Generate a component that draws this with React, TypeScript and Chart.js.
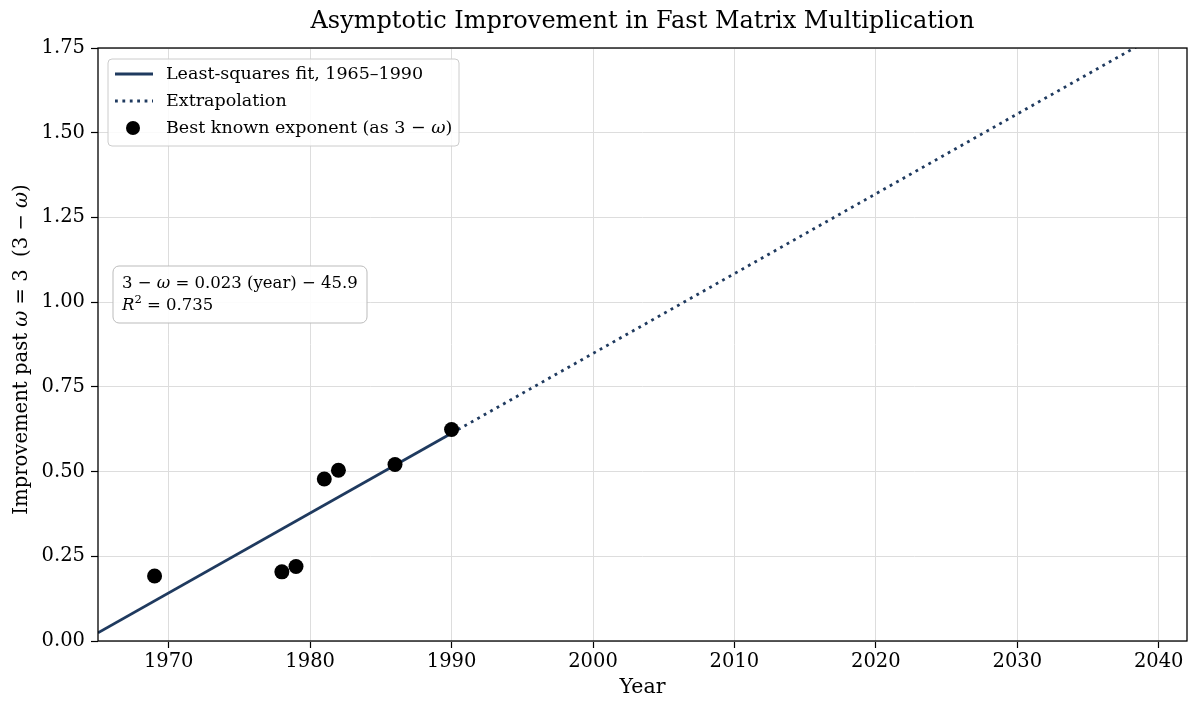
import { useEffect, useRef } from 'react';
import { Chart, registerables } from 'chart.js';

Chart.register(...registerables);

// data
const years = [1969, 1978, 1979, 1981, 1982, 1986, 1990];
const improvement = [0.192, 0.204, 0.22, 0.478, 0.504, 0.521, 0.624];

const fitYears = [1965, 1990];
const fitValues = [0.024, 0.613];
const extrapYears = [1990, 2042];
const extrapValues = [0.613, 1.838];

const xTicks = [1970, 1980, 1990, 2000, 2010, 2020, 2030, 2040];
const yTicks = [0, 0.25, 0.5, 0.75, 1.0, 1.25, 1.5, 1.75];

const legendLabels = ['Least-squares fit, 1965–1990', 'Extrapolation', 'Best known exponent (as 3 − ω)'];

const FONT = "'DejaVu Serif', serif";
const NAVY = '#1f3a5f';

type Seg = { t: string; it?: boolean; sup?: boolean };

// little helper for text with italic / superscript bits
function drawRich(ctx: CanvasRenderingContext2D, segs: Seg[], x: number, y: number, size: number, align: 'left' | 'center') {
    const fontOf = (s: Seg) => `${s.it ? 'italic ' : ''}${s.sup ? size * 0.7 : size}px ${FONT}`;
    let total = 0;
    segs.forEach(s => { ctx.font = fontOf(s); total += ctx.measureText(s.t).width; });
    let cx = align === 'center' ? x - total / 2 : x;
    ctx.textBaseline = 'middle';
    ctx.textAlign = 'left';
    ctx.fillStyle = '#000';
    segs.forEach(s => {
        ctx.font = fontOf(s);
        ctx.fillText(s.t, cx, s.sup ? y - size * 0.38 : y);
        cx += ctx.measureText(s.t).width;
    });
}

function roundBox(ctx: CanvasRenderingContext2D, x: number, y: number, w: number, h: number, r: number) {
    ctx.beginPath();
    ctx.moveTo(x + r, y);
    ctx.arcTo(x + w, y, x + w, y + h, r);
    ctx.arcTo(x + w, y + h, x, y + h, r);
    ctx.arcTo(x, y + h, x, y, r);
    ctx.arcTo(x, y, x + w, y, r);
    ctx.closePath();
}

const yTitle: Seg[] = [
    { t: 'Improvement past ' }, { t: 'ω', it: true }, { t: ' = 3  (3 − ' }, { t: 'ω', it: true }, { t: ')' },
];
const fitLine1: Seg[] = [
    { t: '3 − ' }, { t: 'ω', it: true }, { t: ' = 0.023 (year) − 45.9' },
];
const fitLine2: Seg[] = [
    { t: 'R', it: true }, { t: '2', sup: true }, { t: ' = 0.735' },
];

const overlay = {
    id: 'overlay',
    afterDraw(chart: any) {
        const { ctx, chartArea: a } = chart;
        ctx.save();

        // frame
        ctx.strokeStyle = '#000';
        ctx.lineWidth = 1.3;
        ctx.strokeRect(a.left, a.top, a.right - a.left, a.bottom - a.top);

        // y axis title
        ctx.save();
        ctx.translate(22, (a.top + a.bottom) / 2 + 5);
        ctx.rotate(-Math.PI / 2);
        drawRich(ctx, yTitle, 0, 0, 19.6, 'center');
        ctx.restore();

        // legend
        const lx = a.left + 10, ly = a.top + 11;
        roundBox(ctx, lx, ly, 351, 87, 4);
        ctx.fillStyle = 'rgba(255,255,255,0.85)';
        ctx.fill();
        ctx.strokeStyle = '#cccccc';
        ctx.lineWidth = 1;
        ctx.stroke();

        const rows = [ly + 15, ly + 42, ly + 69];
        ctx.strokeStyle = NAVY;
        ctx.lineWidth = 2.8;
        ctx.beginPath();
        ctx.moveTo(lx + 7, rows[0]);
        ctx.lineTo(lx + 45, rows[0]);
        ctx.stroke();
        ctx.setLineDash([2.8, 4.6]);
        ctx.beginPath();
        ctx.moveTo(lx + 7, rows[1]);
        ctx.lineTo(lx + 45, rows[1]);
        ctx.stroke();
        ctx.setLineDash([]);
        ctx.fillStyle = '#000';
        ctx.beginPath();
        ctx.arc(lx + 25, rows[2], 7, 0, Math.PI * 2);
        ctx.fill();

        drawRich(ctx, [{ t: legendLabels[0] }], lx + 58, rows[0], 17.5, 'left');
        drawRich(ctx, [{ t: legendLabels[1] }], lx + 58, rows[1], 17.5, 'left');
        const last = legendLabels[2];
        const k = last.indexOf('ω');
        drawRich(ctx, [{ t: last.slice(0, k) }, { t: 'ω', it: true }, { t: last.slice(k + 1) }], lx + 58, rows[2], 17.5, 'left');

        // fit annotation
        const bx = a.left + 15, by = a.top + 218;
        roundBox(ctx, bx, by, 254, 57, 6);
        ctx.fillStyle = 'rgba(255,255,255,0.9)';
        ctx.fill();
        ctx.strokeStyle = '#bbbbbb';
        ctx.lineWidth = 1;
        ctx.stroke();
        drawRich(ctx, fitLine1, bx + 9, by + 18, 16.5, 'left');
        drawRich(ctx, fitLine2, bx + 9, by + 40, 16.5, 'left');

        ctx.restore();
    },
};

export default function App() {
    const canvasRef = useRef<HTMLCanvasElement>(null);

    useEffect(() => {
        if (!canvasRef.current) return;

        const chart = new Chart(canvasRef.current as any, {
            type: 'line',
            data: {
                datasets: [
                    {
                        type: 'scatter',
                        label: legendLabels[2],
                        data: years.map((x, i) => ({ x, y: improvement[i] })),
                        backgroundColor: '#000',
                        borderColor: '#000',
                        borderWidth: 0,
                        pointRadius: 7.5,
                        pointHoverRadius: 7.5,
                        order: 0,
                    },
                    {
                        label: legendLabels[0],
                        data: fitYears.map((x, i) => ({ x, y: fitValues[i] })),
                        borderColor: NAVY,
                        borderWidth: 2.8,
                        pointRadius: 0,
                        tension: 0,
                        order: 1,
                    },
                    {
                        label: legendLabels[1],
                        data: extrapYears.map((x, i) => ({ x, y: extrapValues[i] })),
                        borderColor: NAVY,
                        borderWidth: 2.8,
                        borderDash: [2.8, 4.6],
                        pointRadius: 0,
                        tension: 0,
                        order: 2,
                    },
                ] as any,
            },
            options: {
                animation: false,
                responsive: true,
                maintainAspectRatio: false,
                layout: { padding: { left: 0, right: 13, top: 0, bottom: 0 } },
                plugins: {
                    legend: { display: false },
                    tooltip: { enabled: false },
                    title: {
                        display: true,
                        text: 'Asymptotic Improvement in Fast Matrix Multiplication',
                        color: '#000',
                        font: { family: FONT, size: 24, weight: 'normal' },
                        padding: { top: 7.6, bottom: 11.6 },
                        fullSize: false,
                    },
                },
                scales: {
                    x: {
                        type: 'linear',
                        min: 1965,
                        max: 2042,
                        afterBuildTicks: (s: any) => { s.ticks = xTicks.map(v => ({ value: v })); },
                        afterFit: (s: any) => { s.height = 71; },
                        ticks: {
                            color: '#000',
                            font: { family: FONT, size: 19.5 },
                            padding: 2.3,
                            maxRotation: 0,
                            callback: (v: any) => String(v),
                        },
                        grid: { color: '#dddddd', lineWidth: 1, tickColor: '#000', tickLength: 7, tickWidth: 1.2 },
                        border: { display: false },
                        title: {
                            display: true,
                            text: 'Year',
                            color: '#000',
                            font: { family: FONT, size: 20.5 },
                            padding: { top: 0, bottom: 11.7 },
                        },
                    },
                    y: {
                        type: 'linear',
                        min: 0,
                        max: 1.75,
                        afterBuildTicks: (s: any) => { s.ticks = yTicks.map(v => ({ value: v })); },
                        afterFit: (s: any) => { s.width = 98; },
                        ticks: {
                            color: '#000',
                            font: { family: FONT, size: 19.5 },
                            padding: 6,
                            callback: (v: any) => Number(v).toFixed(2),
                        },
                        grid: { color: '#dddddd', lineWidth: 1, tickColor: '#000', tickLength: 7, tickWidth: 1.2 },
                        border: { display: false },
                    },
                },
            },
            plugins: [overlay],
        });

        return () => chart.destroy();
    }, []);

    return (
        <div style={{ position: 'fixed', top: 0, left: 0, width: '1200px', height: '712px', background: '#fff' }}>
            <canvas ref={canvasRef}></canvas>
        </div>
    );
}
